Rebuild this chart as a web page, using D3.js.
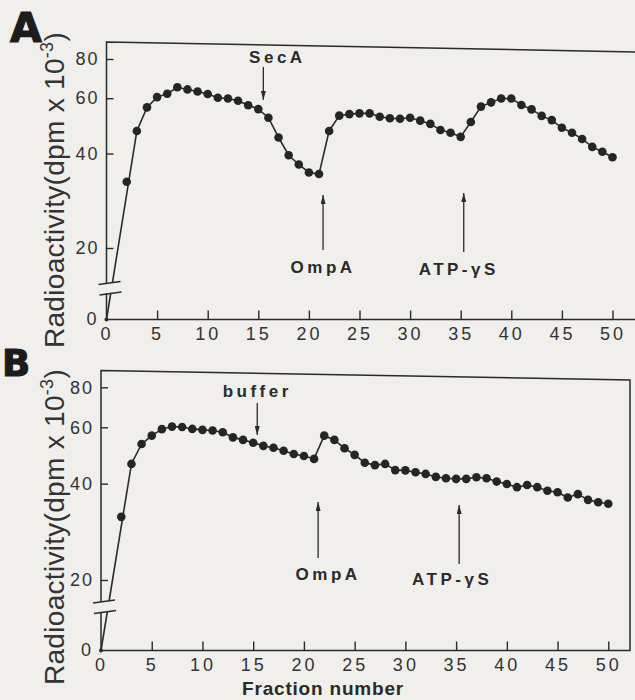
<!DOCTYPE html>
<html>
<head>
<meta charset="utf-8">
<script src="https://cdn.jsdelivr.net/npm/d3@7"></script>
<style>
  body { margin: 0; background: #f0efec; }
  svg { display: block; }
</style>
</head>
<body>
<svg id="chart"></svg>
<script>
// fraction numbers and radioactivity (dpm x 10^-3)
const fractions = [2, 3, 4, 5, 6, 7, 8, 9, 10, 11, 12, 13, 14, 15, 16, 17, 18, 19, 20,
  21, 22, 23, 24, 25, 26, 27, 28, 29, 30, 31, 32, 33, 34, 35, 36, 37, 38, 39, 40,
  41, 42, 43, 44, 45, 46, 47, 48, 49, 50];

const activityA = [32.5, 47.2, 56.1, 60.5, 62.0, 65.0, 64.0, 63.0, 61.9,
  60.2, 59.9, 58.9, 57.0, 55.4, 52.0, 45.0, 39.5, 36.9, 34.8,
  34.4, 47.2, 52.8, 53.4, 53.7, 53.7, 52.4, 51.8, 51.6, 52.0,
  50.9, 49.7, 47.5, 46.6, 45.2, 50.4, 56.4, 58.2, 59.9, 59.9,
  57.1, 55.3, 52.7, 51.1, 48.3, 46.6, 44.5, 42.0, 40.5, 38.9];

const activityB = [31.5, 46.1, 53.2, 56.5, 59.2, 60.3, 60.1, 59.3, 58.9,
  58.6, 57.9, 55.8, 54.8, 53.7, 52.5, 51.8, 50.7, 49.5, 48.8,
  47.8, 56.5, 54.8, 51.6, 49.2, 46.5, 45.7, 46.1, 44.1, 44.0,
  43.4, 42.9, 42.0, 41.6, 41.4, 41.4, 41.9, 41.6, 40.6, 39.9,
  39.0, 39.6, 39.0, 38.0, 37.6, 36.2, 37.1, 35.6, 35.0, 34.6];

const xTicks = [0, 5, 10, 15, 20, 25, 30, 35, 40, 45, 50];
const yTicks = [20, 40, 60, 80];

// additions marked with arrows (fraction where added)
const eventsA = ["SecA", "OmpA", "ATP-γS"];
const eventFractionsA = [15.5, 21.4, 35.3];
const eventsB = ["buffer", "OmpA", "ATP-γS"];
const eventFractionsB = [15.4, 21.4, 35.3];

const lineStart = 3; // fitted line runs from the origin straight to fraction 3

const width = 635, height = 700;
const ink = "#2a2a2a";
const font = "'Liberation Sans', Arial, sans-serif";

const svg = d3.select("#chart").attr("width", width).attr("height", height);
svg.append("rect").attr("width", width).attr("height", height).attr("fill", "#f0efec");

svg.append("defs").append("marker")
  .attr("id", "head")
  .attr("viewBox", "0 0 10 10")
  .attr("refX", 10).attr("refY", 5)
  .attr("markerWidth", 9).attr("markerHeight", 5)
  .attr("markerUnits", "userSpaceOnUse")
  .attr("preserveAspectRatio", "none")
  .attr("orient", "auto")
  .append("path").attr("d", "M0,0L10,5L0,10Z").attr("fill", ink);

const panels = [
  {
    letter: "A", letterX: 10, letterY: 42, letterSize: 41,
    values: activityA, events: eventsA, eventX: eventFractionsA,
    x0: 106.5, x50: 612.5, right: 636, topL: 42, topR: 52, bottom: 319.5,
    y20: 248, y80: 59, breakY: 288.5, labelY: 190,
    arrows: [
      { tail: 67, tip: 100, textY: 63, dx: 14 },
      { tail: 250, tip: 195, textY: 273, dx: 0 },
      { tail: 252, tip: 193, textY: 275, dx: -5 }
    ]
  },
  {
    letter: "B", letterX: 2, letterY: 376, letterSize: 37,
    values: activityB, events: eventsB, eventX: eventFractionsB,
    x0: 101, x50: 608.3, right: 630, topL: 370.5, topR: 380, bottom: 650.5,
    y20: 580, y80: 387.3, breakY: 607, labelY: 527,
    arrows: [
      { tail: 403, tip: 435, textY: 397, dx: 0 },
      { tail: 558, tip: 502, textY: 580, dx: 10 },
      { tail: 564, tip: 505, textY: 585, dx: -7 }
    ]
  }
];

panels.forEach(drawPanel);

// x axis title under panel B
svg.append("text")
  .attr("x", 323).attr("y", 695)
  .attr("text-anchor", "middle")
  .attr("font-family", font).attr("font-weight", "bold")
  .attr("font-size", 19).attr("letter-spacing", 0.8)
  .attr("fill", ink)
  .text("Fraction number");

function drawPanel(p) {
  const g = svg.append("g");
  const x = d3.scaleLinear().domain([0, 50]).range([p.x0, p.x50]);
  const yLog = d3.scaleLog().domain([20, 80]).range([p.y20, p.y80]);
  const y = v => v === 0 ? p.bottom : yLog(v);

  const points = fractions.map((f, i) => ({ f: f, v: p.values[i] }));

  // frame
  g.append("path")
    .attr("d", `M${p.x0},${p.topL}L${p.right},${p.topR}L${p.right},${p.bottom}L${p.x0},${p.bottom}Z`)
    .attr("fill", "none").attr("stroke", ink).attr("stroke-width", 1.5);

  // x ticks point inward, labels below
  const xAxis = g.append("g")
    .attr("transform", `translate(0,${p.bottom})`)
    .call(d3.axisBottom(x).tickValues(xTicks).tickSizeInner(-9).tickSizeOuter(0).tickPadding(8));
  xAxis.select(".domain").remove();
  xAxis.selectAll(".tick line").attr("stroke", ink).attr("stroke-width", 1.4);
  xAxis.selectAll(".tick").filter(d => d === 0).select("line").remove();
  xAxis.selectAll("text")
    .attr("font-family", font).attr("font-size", 18)
    .attr("letter-spacing", 3).attr("fill", "#333");

  const yAxis = g.append("g")
    .attr("transform", `translate(${p.x0},0)`)
    .call(d3.axisLeft(yLog).tickValues(yTicks).tickFormat(d3.format("d"))
      .tickSizeInner(-7).tickSizeOuter(0).tickPadding(7));
  yAxis.select(".domain").remove();
  yAxis.selectAll(".tick line").attr("stroke", ink).attr("stroke-width", 1.4);
  yAxis.selectAll("text")
    .attr("font-family", font).attr("font-size", 18)
    .attr("letter-spacing", 2).attr("fill", "#333");

  g.append("text")
    .attr("x", p.x0 - 10).attr("y", p.bottom).attr("dy", "0.3em")
    .attr("text-anchor", "end")
    .attr("font-family", font).attr("font-size", 18).attr("fill", "#333")
    .text("0");

  // curve: origin, then every fraction from lineStart on
  const linePoints = [{ f: 0, v: 0 }].concat(points.filter(d => d.f >= lineStart));
  g.append("path")
    .datum(linePoints)
    .attr("d", d3.line().x(d => x(d.f)).y(d => y(d.v)))
    .attr("fill", "none").attr("stroke", ink).attr("stroke-width", 1.6);

  // axis break: blank band over axis and curve, then two slash marks
  const b = p.breakY, l = p.x0;
  g.append("path")
    .attr("d", `M${l - 10},${b - 4}L${l + 17},${b - 7}L${l + 17},${b + 3}L${l - 10},${b + 6}Z`)
    .attr("fill", "#f0efec");
  g.append("path")
    .attr("d", `M${l - 8},${b - 4}L${l + 14},${b - 7}M${l - 7},${b + 6.5}L${l + 15},${b + 3.5}`)
    .attr("stroke", ink).attr("stroke-width", 1.5).attr("fill", "none");

  g.append("circle").attr("cx", x(0)).attr("cy", y(0)).attr("r", 2).attr("fill", ink);

  g.selectAll(".dot")
    .data(points)
    .join("circle")
    .attr("class", "dot")
    .attr("cx", d => x(d.f)).attr("cy", d => y(d.v))
    .attr("r", 4.3)
    .attr("fill", "#252525");

  // arrows for additions
  p.events.forEach((name, i) => {
    const a = p.arrows[i];
    const ax = x(p.eventX[i]);
    g.append("line")
      .attr("x1", ax).attr("x2", ax)
      .attr("y1", a.tail).attr("y2", a.tip)
      .attr("stroke", ink).attr("stroke-width", 1.3)
      .attr("marker-end", "url(#head)");
    g.append("text")
      .attr("x", ax + a.dx).attr("y", a.textY)
      .attr("text-anchor", "middle")
      .attr("font-family", font).attr("font-weight", "bold")
      .attr("font-size", 17).attr("letter-spacing", 3.5)
      .attr("fill", ink)
      .text(name);
  });

  // y axis title
  const yl = g.append("text")
    .attr("transform", `translate(64,${p.labelY}) rotate(-90)`)
    .attr("text-anchor", "middle")
    .attr("font-family", font).attr("font-size", 28)
    .attr("letter-spacing", 0.3).attr("fill", "#333");
  yl.append("tspan").text("Radioactivity(dpm x 10");
  yl.append("tspan").attr("font-size", 18).attr("dy", -11).text("-3");
  yl.append("tspan").attr("dy", 11).text(")");

  // panel letter
  g.append("text")
    .attr("x", p.letterX).attr("y", p.letterY)
    .attr("font-family", "'DejaVu Sans', sans-serif").attr("font-weight", "bold")
    .attr("font-size", p.letterSize)
    .attr("fill", "#1c1c1c").attr("stroke", "#1c1c1c").attr("stroke-width", 1.2)
    .text(p.letter);
}
</script>
</body>
</html>
